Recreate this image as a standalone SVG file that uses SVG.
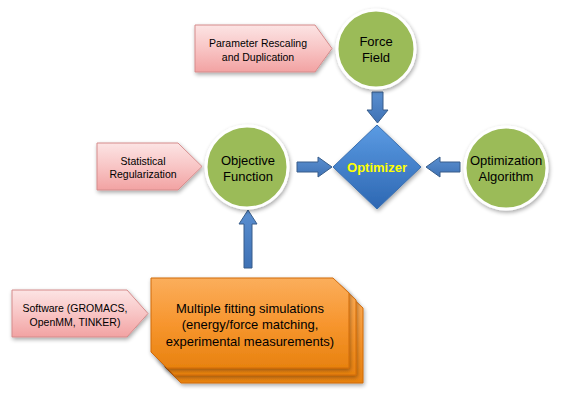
<svg xmlns="http://www.w3.org/2000/svg" width="562" height="400" viewBox="0 0 562 400">
<defs>
<linearGradient id="pink" x1="0" y1="0" x2="0" y2="1">
<stop offset="0" stop-color="#FCE4E4"/><stop offset="0.5" stop-color="#F8C5C5"/><stop offset="1" stop-color="#F2A2A2"/>
</linearGradient>
<linearGradient id="blue" x1="0" y1="0" x2="0" y2="1">
<stop offset="0" stop-color="#5B9BE3"/><stop offset="1" stop-color="#2D67B2"/>
</linearGradient>
<linearGradient id="orange" x1="0" y1="0" x2="0" y2="1">
<stop offset="0" stop-color="#FBAE5C"/><stop offset="0.5" stop-color="#F7962F"/><stop offset="1" stop-color="#E8820F"/>
</linearGradient>
<linearGradient id="arrowg" x1="0" y1="0" x2="0" y2="1">
<stop offset="0" stop-color="#5A8FD0"/><stop offset="1" stop-color="#3F72B5"/>
</linearGradient>
<filter id="sh" x="-20%" y="-20%" width="150%" height="150%">
<feGaussianBlur in="SourceAlpha" stdDeviation="2"/>
<feOffset dx="1" dy="2" result="b"/>
<feComponentTransfer><feFuncA type="linear" slope="0.35"/></feComponentTransfer>
<feMerge><feMergeNode/><feMergeNode in="SourceGraphic"/></feMerge>
</filter>
</defs>
<style>
.pent{fill:url(#pink);stroke:#D58B8B;stroke-width:1;filter:url(#sh)}
.circ{fill:#9BBB59;stroke:#FFFFFF;stroke-width:3;filter:url(#sh)}
.box{fill:url(#orange);stroke:#D06A0C;stroke-width:1;filter:url(#sh)}
.arr{fill:url(#arrowg);stroke:#385D8A;stroke-width:1}
text{font-family:"Liberation Sans",Arial,sans-serif;text-anchor:middle;fill:#000}
.sm{font-size:10.5px}
.md{font-size:13px}
.opt{font-size:13px;font-weight:bold;fill:#FFFF00}
</style>

<g id="connectors">
<path class="arr" d="M372,92 H383 V110 H388 L377.5,123 L367,110 H372 Z"/>
<path class="arr" d="M297,162 H318 V157 L332,167 L318,177 V172 H297 Z"/>
<path class="arr" d="M460,162 H440 V157 L426,167 L440,177 V172 H460 Z"/>
<path class="arr" d="M244,268 V224 H239 L248,210 L257,224 H252 V268 Z"/>
</g>

<g id="param">
<polygon class="pent" points="195,25 315,25 332,48.5 315,72 195,72"/>
<text class="sm" x="258" y="47">Parameter Rescaling</text>
<text class="sm" x="258" y="61">and Duplication</text>
</g>

<g id="forcefield">
<circle class="circ" cx="376" cy="49" r="39"/>
<text class="md" x="376" y="46">Force</text>
<text class="md" x="376" y="62">Field</text>
</g>

<g id="statreg">
<polygon class="pent" points="97,143 178,143 202,166.5 178,190 97,190"/>
<text class="sm" x="143" y="164.5">Statistical</text>
<text class="sm" x="143" y="178">Regularization</text>
</g>

<g id="objective">
<circle class="circ" cx="247" cy="167" r="41"/>
<text class="md" x="248" y="165">Objective</text>
<text class="md" x="248" y="181">Function</text>
</g>

<g id="optimizer">
<polygon points="377,125 421,167 377,209 333,167" fill="url(#blue)" stroke="#3A6FB0" stroke-width="1" filter="url(#sh)"/>
<text class="opt" x="377" y="172">Optimizer</text>
</g>

<g id="algorithm">
<circle class="circ" cx="506" cy="168" r="41"/>
<text class="md" x="506" y="165">Optimization</text>
<text class="md" x="506" y="181">Algorithm</text>
</g>

<g id="software">
<polygon class="pent" points="12,290 127,290 148,313.5 127,337 12,337"/>
<text class="sm" x="75" y="312">Software (GROMACS,</text>
<text class="sm" x="75" y="326">OpenMM, TINKER)</text>
</g>

<g id="simulations">
<path class="box" d="M165,293 H347 L363,308 V383 H181 L165,367 Z"/>
<path class="box" d="M158,285 H340 L356,300 V375 H174 L158,359 Z"/>
<path class="box" d="M151,278 H333 L349,293 V368 H167 L151,352 Z"/>
<text class="md" x="250" y="313">Multiple fitting simulations</text>
<text class="md" x="250" y="329">(energy/force matching,</text>
<text class="md" x="250" y="346">experimental measurements)</text>
</g>
</svg>
